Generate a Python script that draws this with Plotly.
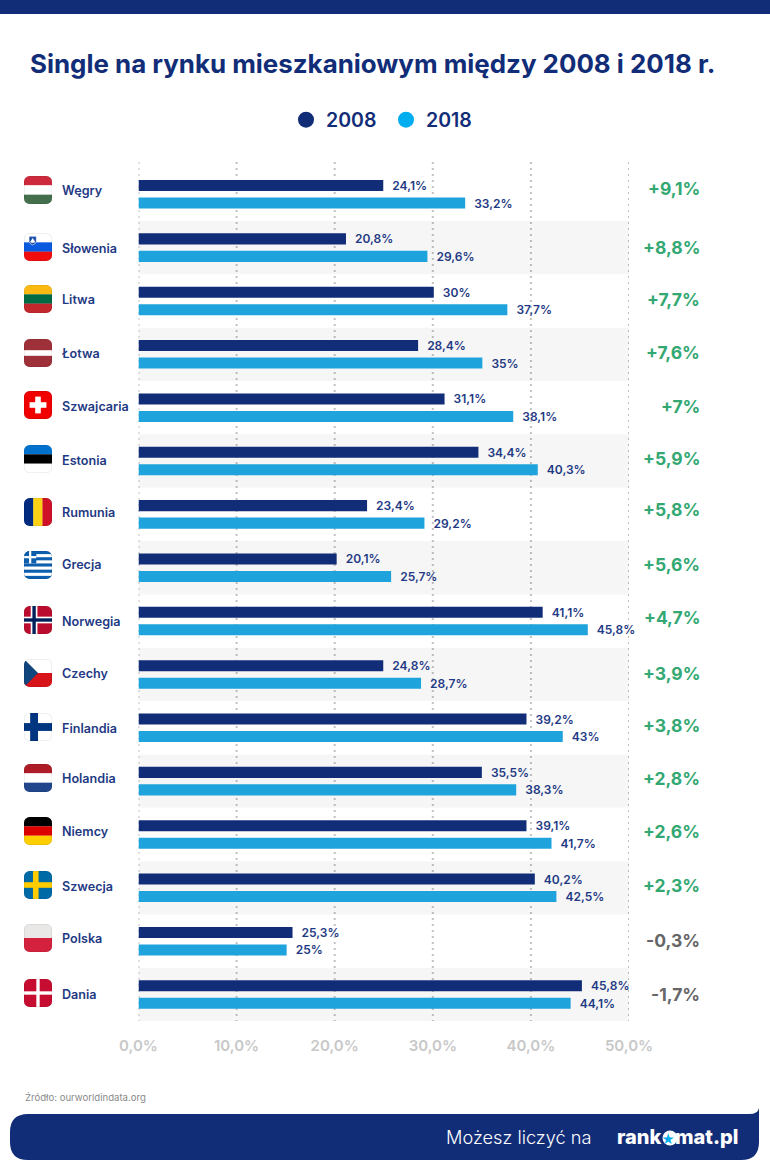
import base64
import plotly.graph_objects as go

# ---- data ----
countries = ["Węgry", "Słowenia", "Litwa", "Łotwa", "Szwajcaria", "Estonia", "Rumunia", "Grecja",
             "Norwegia", "Czechy", "Finlandia", "Holandia", "Niemcy", "Szwecja", "Polska", "Dania"]
# bar lengths as drawn in the picture
bars_2008 = [24.95, 21.15, 30.1, 28.5, 31.2, 34.65, 23.3, 20.2, 41.2, 24.95, 39.55, 35.0, 39.55, 40.4, 15.7, 45.2]
bars_2018 = [33.3, 29.45, 37.6, 35.05, 38.2, 40.7, 29.15, 25.75, 45.8, 28.8, 43.25, 38.5, 42.1, 42.6, 15.1, 44.05]
# printed labels
labels_2008 = ["24,1%", "20,8%", "30%", "28,4%", "31,1%", "34,4%", "23,4%", "20,1%", "41,1%", "24,8%",
               "39,2%", "35,5%", "39,1%", "40,2%", "25,3%", "45,8%"]
labels_2018 = ["33,2%", "29,6%", "37,7%", "35%", "38,1%", "40,3%", "29,2%", "25,7%", "45,8%", "28,7%",
               "43%", "38,3%", "41,7%", "42,5%", "25%", "44,1%"]
changes = ["+9,1%", "+8,8%", "+7,7%", "+7,6%", "+7%", "+5,9%", "+5,8%", "+5,6%", "+4,7%", "+3,9%",
           "+3,8%", "+2,8%", "+2,6%", "+2,3%", "-0,3%", "-1,7%"]
tick_values = [0, 10, 20, 30, 40, 50]
tick_labels = ["0,0%", "10,0%", "20,0%", "30,0%", "40,0%", "50,0%"]

# ---- layout constants (pixels in the 770x1175 page) ----
W, H = 770, 1175
FONT = "Inter"
NAVY = "#122d78"
SKY = "#1fa3dd"
SKY_LEGEND = "#00aeef"
GREEN = "#33a873"
GREY = "#666666"
LABEL = "#1f3a84"
flag_centre = [190, 247, 299, 353, 405, 459, 512, 565, 620, 673, 727, 778, 831, 885, 938, 993]
name_centre = [191, 248, 300, 354, 406, 460, 512, 565, 621, 673, 728, 778, 831, 886, 938, 994]
delta_centre = [188, 247, 299, 352, 406, 459, 510, 565, 617, 673, 725, 778, 831, 885, 940, 994]


def px(v):
    return v / W


def py(v):
    return 1 - v / H


def bands(*cs):
    return "".join(f'<rect x="0" y="{100 * i / len(cs)}" width="100" height="{100 / len(cs) + .5}" fill="{c}"/>'
                   for i, c in enumerate(cs))


def cross(bg, fg, cx=36, w=18, inner=None):
    s = f'<rect width="100" height="100" fill="{bg}"/><rect x="{cx - w / 2}" width="{w}" height="100" fill="{fg}"/>' \
        f'<rect y="{50 - w / 2}" width="100" height="{w}" fill="{fg}"/>'
    if inner:
        s += f'<rect x="{cx - w / 4}" width="{w / 2}" height="100" fill="{inner}"/>' \
             f'<rect y="{50 - w / 4}" width="100" height="{w / 2}" fill="{inner}"/>'
    return s


greece = '<rect width="100" height="100" fill="#0d5eaf"/>' + "".join(
    f'<rect y="{11.1 * i}" x="0" width="100" height="11.1" fill="#fff"/>' for i in (1, 3, 5, 7)) + \
    '<rect width="44" height="44" fill="#0d5eaf"/><rect x="18" width="8" height="44" fill="#fff"/>' \
    '<rect y="18" width="44" height="8" fill="#fff"/>'

flags = {
    "Węgry": bands("#cd2a3e", "#ffffff", "#436f4d"),
    "Słowenia": bands("#ffffff", "#0a5ae0", "#f10d0d") +
                '<path d="M18 12h26v18q-1 9-13 13q-12-4-13-13z" fill="#1b4fa8" stroke="#fff" stroke-width="2"/>'
                '<path d="M22 32l9-14 9 14q-9 6-18 0z" fill="#fff"/>',
    "Litwa": bands("#fdb913", "#006a44", "#c1272d"),
    "Łotwa": '<rect width="100" height="100" fill="#9e3039"/><rect y="40" width="100" height="20" fill="#fff"/>',
    "Szwajcaria": '<rect width="100" height="100" fill="#f00000"/><rect x="40" y="20" width="20" height="60" fill="#fff"/>'
                  '<rect x="20" y="40" width="60" height="20" fill="#fff"/>',
    "Estonia": bands("#0072ce", "#000000", "#ffffff"),
    "Rumunia": '<rect width="34" height="100" fill="#002b7f"/><rect x="33" width="34" height="100" fill="#fcd116"/>'
               '<rect x="66" width="34" height="100" fill="#ce1126"/>',
    "Grecja": greece,
    "Norwegia": cross("#ba0c2f", "#ffffff", 36, 24, "#00205b"),
    "Czechy": bands("#ffffff", "#d7141a") + '<path d="M0 0L50 50L0 100z" fill="#11457e"/>',
    "Finlandia": cross("#ffffff", "#003580", 36, 28),
    "Holandia": bands("#ae1c28", "#ffffff", "#21468b"),
    "Niemcy": bands("#000000", "#dd0000", "#ffce00"),
    "Szwecja": cross("#006aa7", "#fecc00", 42, 20),
    "Polska": bands("#e9e8e7", "#d4213d"),
    "Dania": cross("#c60c30", "#ffffff", 50, 12),
}


def flag_uri(body):
    svg = ('<svg xmlns="http://www.w3.org/2000/svg" viewBox="0 0 100 100" width="100" height="100">'
           '<clipPath id="c"><rect width="100" height="100" rx="20"/></clipPath>'
           f'<g clip-path="url(#c)">{body}</g>'
           '<rect x="1" y="1" width="98" height="98" rx="19" fill="none" stroke="#000000" stroke-opacity="0.14" '
           'stroke-width="2"/></svg>')
    return "data:image/svg+xml;base64," + base64.b64encode(svg.encode()).decode()


fig = go.Figure()
bar_pad = "\u00a0\u00a0"
for name, vals, texts, col, legend_col in (("2008", bars_2008, labels_2008, NAVY, NAVY),
                                           ("2018", bars_2018, labels_2018, SKY, SKY_LEGEND)):
    fig.add_trace(go.Bar(
        x=vals, y=countries, name=name, orientation="h", marker=dict(color=col, line=dict(width=0)),
        text=[bar_pad + t for t in texts], textposition="outside", cliponaxis=False, constraintext="none",
        textangle=0, textfont=dict(family=FONT, size=12, color=LABEL, weight=600), showlegend=False,
        hoverinfo="skip"))
    fig.add_trace(go.Scatter(x=[None], y=[None], name=name, mode="markers",
                             marker=dict(color=legend_col, size=16, symbol="circle")))

shapes = []
# dotted grid (runs a little above the first row)
for t in tick_values:
    shapes.append(dict(type="line", xref="x", yref="paper", x0=t, x1=t, y0=py(162), y1=py(1021),
                       line=dict(color="#c2c2c2", width=2, dash="2px,4px"), layer="below"))
# alternating stripes, translucent so the grid shows through
for i in range(1, len(countries), 2):
    shapes.append(dict(type="rect", xref="x", yref="y", x0=0, x1=50, y0=i - .5, y1=i + .5,
                       fillcolor="rgba(0,0,0,0.036)", line_width=0, layer="below"))
# header and footer bands
shapes.append(dict(type="rect", xref="paper", yref="paper", x0=0, x1=1, y0=py(14), y1=1,
                   fillcolor=NAVY, line_width=0, layer="below"))
fx0, fx1, fy0, fy1 = 10, 759, 1114, 1160
r = 18
path = (f"M{px(fx0 + r)},{py(fy0)} L{px(fx1 - 10)},{py(fy0)} Q{px(fx1 - 1)},{py(fy0)} {px(fx1)},{py(fy0 - 6)} "
        f"L{px(fx1)},{py(fy1 - r)} Q{px(fx1)},{py(fy1)} {px(fx1 - r)},{py(fy1)} "
        f"L{px(fx0 + r)},{py(fy1)} Q{px(fx0)},{py(fy1)} {px(fx0)},{py(fy1 - r)} "
        f"L{px(fx0)},{py(fy0 + r)} Q{px(fx0)},{py(fy0)} {px(fx0 + r)},{py(fy0)} Z")
shapes.append(dict(type="path", xref="paper", yref="paper", path=path, fillcolor=NAVY, line_width=0, layer="below"))
# white disc of the logo's "o"
shapes.append(dict(type="circle", xref="paper", yref="paper", x0=px(662.5), x1=px(677.5), y0=py(1145.5), y1=py(1130.5),
                   fillcolor="#ffffff", line_width=0, layer="below"))

ann = []
images = []
for i, c in enumerate(countries):
    images.append(dict(source=flag_uri(flags[c]), xref="paper", yref="paper", x=px(24), y=py(flag_centre[i] - 14),
                       sizex=28 / W, sizey=28 / H, sizing="stretch", xanchor="left", yanchor="top", layer="above"))
    ann.append(dict(text=c, xref="paper", yref="paper", x=px(60), y=py(name_centre[i]), xanchor="left",
                    yanchor="middle", showarrow=False,
                    font=dict(family=FONT, size=12.6, color=LABEL, weight=600)))
    ann.append(dict(text=changes[i], xref="paper", yref="paper", x=px(702), y=py(delta_centre[i]), xanchor="right",
                    yanchor="middle", showarrow=False,
                    font=dict(family=FONT, size=17.5, weight=700, color=GREEN if changes[i][0] == "+" else GREY)))

ann.append(dict(text="Źródło: ourworldindata.org", xref="paper", yref="paper", x=px(23), y=py(1097), xanchor="left",
                yanchor="middle", showarrow=False, font=dict(family=FONT, size=9.6, color="#8a8a8a")))
ann.append(dict(text="Możesz liczyć na", xref="paper", yref="paper", x=px(444), y=py(1137), xanchor="left",
                yanchor="middle", showarrow=False, font=dict(family=FONT, size=18.2, color="#ffffff", weight=300)))
ann.append(dict(text=f"rank<span style='color:{SKY_LEGEND};font-size:13px'>★</span>mat.pl", xref="paper", yref="paper",
                x=px(615), y=py(1137), xanchor="left", yanchor="middle", showarrow=False,
                font=dict(family=FONT, size=20, color="#ffffff", weight=800)))

fig.update_layout(
    width=W, height=H, autosize=False, margin=dict(l=0, r=0, t=0, b=0),
    paper_bgcolor="#ffffff", plot_bgcolor="rgba(0,0,0,0)",
    barmode="group", bargap=0.344, bargroupgap=0.37,
    title=dict(text="Single na rynku mieszkaniowym między 2008 i 2018 r.", x=px(30), y=py(64), xanchor="left",
               yanchor="middle", xref="paper", yref="paper",
               font=dict(family=FONT, size=25.9, color=NAVY, weight=700)),
    legend=dict(orientation="h", x=px(286), y=py(120), xanchor="left", yanchor="middle", entrywidth=55,
                entrywidthmode="pixels", font=dict(family=FONT, size=19.5, color=NAVY, weight=600),
                itemclick=False, itemdoubleclick=False),
    xaxis=dict(domain=[px(138.5), px(629)], range=[0, 50], tickvals=tick_values, ticktext=tick_labels,
               showgrid=False, zeroline=False, showline=False,
               ticks="", ticklabelstandoff=14, automargin=False,
               tickfont=dict(family=FONT, size=15, color="#c8c8c8", weight=600)),
    yaxis=dict(domain=[py(1021.2), py(167.6)], type="category", categoryorder="array", categoryarray=countries,
               autorange="reversed", showticklabels=False, showgrid=False, zeroline=False, showline=False, ticks="",
               automargin=False),
    shapes=shapes, annotations=ann, images=images,
    font=dict(family=FONT),
)

fig.write_html("out.html", config={"displayModeBar": False},
               post_script="document.body.style.margin='0';")
